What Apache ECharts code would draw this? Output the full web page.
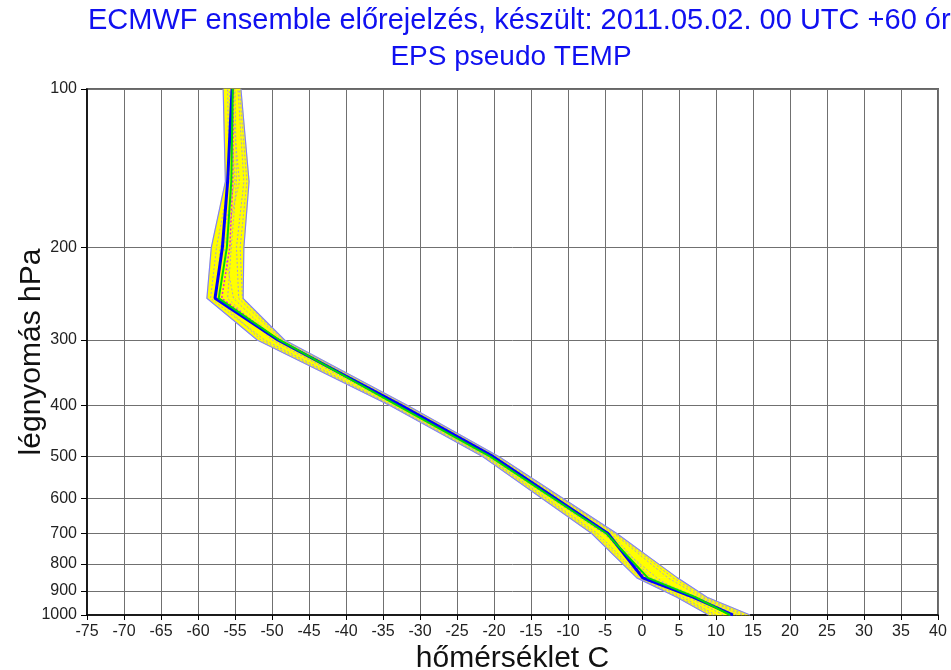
<!DOCTYPE html>
<html>
<head>
<meta charset="utf-8">
<script src="https://cdn.jsdelivr.net/npm/echarts@6/dist/echarts.min.js"></script>
<style>html,body{margin:0;padding:0;background:#fff;}#c{width:951px;height:670px;}</style>
</head>
<body>
<div id="c"></div>
<script>
var levels = [1000, 925, 850, 700, 500, 400, 300, 250, 200, 150, 100];
var bandMin = [9.0, 4.7, -0.7, -6.8, -21.5, -34.0, -52.0, -58.8, -58.2, -56.3, -56.6];
var bandMax = [14.6, 8.8, 4.8, -3.4, -19.3, -31.6, -48.3, -53.9, -53.8, -53.1, -54.2];
var control = [12.3, 6.9, 0.1, -4.6, -20.1, -32.5, -49.2, -57.7, -56.7, -56.0, -55.4];
var ensMean = [11.9, 7.2, 0.8, -4.8, -20.5, -33.0, -49.0, -57.2, -56.1, -55.5, -55.3];
var median = [12.0, 7.0, 0.5, -4.9, -20.4, -32.9, -49.1, -56.8, -55.7, -55.3, -55.2];
var member1 = [10.0, 5.5, 0.0, -6.0, -21.0, -33.6, -51.0, -58.3, -57.5, -55.8, -56.0];
var member2 = [13.5, 8.0, 3.5, -3.8, -19.8, -32.2, -48.8, -54.5, -54.8, -53.8, -54.6];
var member3 = [11.0, 6.2, 2.0, -5.2, -20.8, -33.2, -50.0, -56.0, -55.5, -54.8, -55.0];
var member4 = [12.8, 7.6, 1.2, -4.2, -20.2, -32.7, -49.5, -55.2, -56.5, -54.4, -55.6];
var member5 = [9.6, 5.0, -0.3, -6.4, -21.2, -33.8, -51.5, -57.5, -57.0, -55.0, -55.8];
var member6 = [14.0, 8.4, 4.2, -3.6, -19.6, -32.0, -48.6, -54.0, -54.3, -53.4, -54.4];
var tempTicks = {min: -75, max: 40, step: 5};
var pressTicks = [100, 200, 300, 400, 500, 600, 700, 800, 900, 1000];

function pairs(arr) { return arr.map(function (t, i) { return [t, levels[i]]; }); }

var chart = echarts.init(document.getElementById('c'), null, {renderer: 'canvas'});

function memberSeries(arr) {
  return {
    type: 'line', data: pairs(arr), symbol: 'none', silent: true, z: 3,
    lineStyle: {color: '#a8a0cc', width: 1, type: [2, 2]}
  };
}

var FONT = 'Liberation Sans';
var option = {
  backgroundColor: '#fff',
  animation: false,
  title: [
    {text: 'ECMWF ensemble előrejelzés, készült: 2011.05.02. 00 UTC +60 óra', left: 83, top: 1,
      textStyle: {color: '#1010f0', fontFamily: FONT, fontSize: 29, fontWeight: 'normal'}},
    {text: 'EPS pseudo TEMP', left: 506, top: 38, textAlign: 'center',
      textStyle: {color: '#1010f0', fontFamily: FONT, fontSize: 28, fontWeight: 'normal'}}
  ],
  grid: {left: 87, right: 13, top: 89, bottom: 55, containLabel: false, outerBoundsMode: 'none',
    show: true, borderColor: '#666', borderWidth: 2, backgroundColor: '#fff'},
  xAxis: {
    type: 'value', min: tempTicks.min, max: tempTicks.max, interval: tempTicks.step,
    name: 'hőmérséklet C', nameLocation: 'middle', nameGap: 29, nameMoveOverlap: false,
    nameTextStyle: {color: '#111', fontFamily: FONT, fontSize: 30},
    axisLine: {show: true, onZero: false, lineStyle: {color: '#000', width: 1.5}},
    axisTick: {show: true, length: 5, lineStyle: {color: '#000'}},
    axisLabel: {color: '#222', fontFamily: FONT, fontSize: 16, margin: 9},
    splitLine: {show: true, lineStyle: {color: '#707070', width: 1}}
  },
  yAxis: {
    type: 'log', logBase: 10, min: 100, max: 1000, inverse: true,
    name: 'légnyomás hPa', nameLocation: 'middle', nameGap: 40, nameRotate: 90, nameMoveOverlap: false,
    nameTextStyle: {color: '#111', fontFamily: FONT, fontSize: 30},
    axisLine: {show: true, onZero: false, lineStyle: {color: '#000', width: 1.5}},
    axisTick: {show: true, length: 6, customValues: pressTicks, lineStyle: {color: '#000'}},
    axisLabel: {customValues: pressTicks, color: '#222', fontFamily: FONT, fontSize: 16, margin: 10,
      formatter: function (v) { return String(Math.round(v)); }},
    splitLine: {show: true, lineStyle: {color: '#707070', width: 1}}
  },
  series: [
    {
      type: 'custom', silent: true, z: 2,
      data: levels.slice(0, levels.length - 1).map(function (p, i) { return [bandMin[i], p, bandMax[i]]; }),
      encode: {x: [0, 2], y: 1},
      renderItem: function (params, api) {
        var i = params.dataIndex;
        var pts = [
          api.coord([bandMin[i], levels[i]]),
          api.coord([bandMin[i + 1], levels[i + 1]]),
          api.coord([bandMax[i + 1], levels[i + 1]]),
          api.coord([bandMax[i], levels[i]])
        ];
        return {type: 'polygon', shape: {points: pts}, style: {fill: '#ffff00', stroke: '#ffff00', lineWidth: 0.5}};
      }
    },
    memberSeries(member1), memberSeries(member2), memberSeries(member3),
    memberSeries(member4), memberSeries(member5), memberSeries(member6),
    {type: 'line', data: pairs(bandMin), symbol: 'none', silent: true, z: 4, lineStyle: {color: '#8080ff', width: 1.2}},
    {type: 'line', data: pairs(bandMax), symbol: 'none', silent: true, z: 4, lineStyle: {color: '#8080ff', width: 1.2}},
    {type: 'line', data: pairs(median), symbol: 'none', silent: true, z: 5, lineStyle: {color: '#e020e0', width: 1.5, type: [2, 2]}},
    {type: 'line', data: pairs(control), symbol: 'none', silent: true, z: 6, lineStyle: {color: '#0000ff', width: 3}},
    {type: 'line', data: pairs(ensMean), symbol: 'none', silent: true, z: 7, lineStyle: {color: '#00dd00', width: 2}}
  ]
};
chart.setOption(option);
</script>
</body>
</html>
